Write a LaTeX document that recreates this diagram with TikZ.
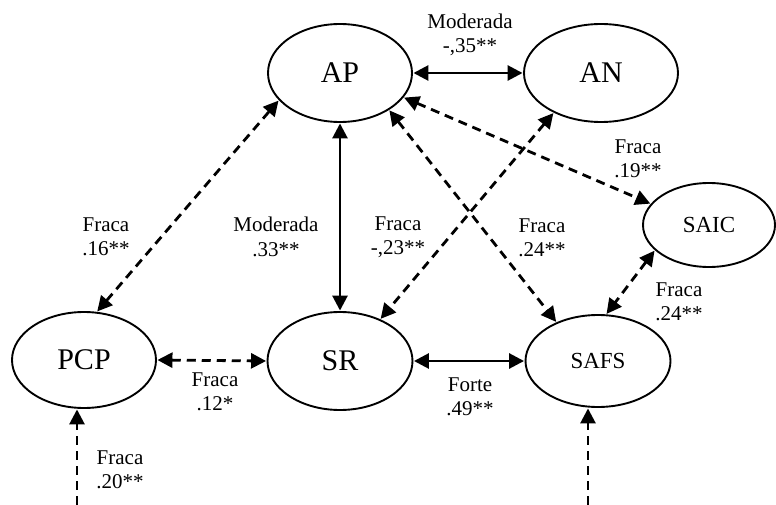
\documentclass[tikz,border=0pt]{standalone}
\usepackage{fontspec}
\setmainfont{Liberation Serif}
\usetikzlibrary{shapes.geometric,arrows.meta}

\tikzset{
  var/.style={draw, ellipse, line width=1.9pt, inner sep=0pt},
  bigvar/.style={var, font=\fontsize{30}{32}\selectfont},
  smallvar/.style={var, font=\fontsize{23}{26}\selectfont},
  lbl/.style={align=center, inner sep=0pt, font=\fontsize{21}{24.5}\selectfont},
  tip/.style={-{Triangle[length=15pt,width=15pt]}},
  both/.style={{Triangle[length=15pt,width=15pt]}-{Triangle[length=15pt,width=15pt]}},
  rel/.style={line width=2.8pt, shorten <=0.5pt, shorten >=0.5pt},
  weak/.style={rel, dash pattern=on 9pt off 6pt},
}

\begin{document}
\begin{tikzpicture}[x=1pt, y=-1pt]
  \useasboundingbox (0,0) rectangle (776,505);

  % latent variables
  \node[bigvar, minimum width=144pt, minimum height=98pt] (AP) at (340,73) {AP};
  \node[bigvar, minimum width=154pt, minimum height=98pt] (AN) at (601,73) {AN};
  \node[smallvar, minimum width=132pt, minimum height=84pt] (SAIC) at (709,225) {SAIC};
  \node[bigvar, minimum width=144pt, minimum height=96pt] (PCP) at (84,360) {PCP};
  \node[bigvar, minimum width=145pt, minimum height=98pt] (SR) at (340,361) {SR};
  \node[smallvar, minimum width=145pt, minimum height=92pt] (SAFS) at (598,361) {SAFS};

  % loose ends at the bottom
  \coordinate (inPCP) at (77,505);
  \coordinate (inSAFS) at (588,505);

  % strong and moderate relations
  \draw[rel, both] (AP.east) -- (AN.west);
  \draw[rel, both] (AP.south) -- (SR.north);
  \draw[rel, both] (SR.east) -- (SAFS.west);

  % weak relations
  \draw[weak, both] (PCP.75) -- (AP.204);
  \draw[weak, both] (PCP.east) -- (SR.west);
  \draw[weak, both] (AN.220) -- (SR.46);
  \draw[weak, both] (AP.-37) -- (SAFS.137);
  \draw[weak, both] (AP.-21) -- (SAIC.160);
  \draw[weak, both] (SAIC.205) -- (SAFS.80);
  \draw[weak, tip] (inPCP) -- (inPCP |- PCP.south);
  \draw[weak, tip] (inSAFS) -- (inSAFS |- SAFS.south);

  % coefficients
  \node[lbl] (lAPAN) at (470,35) {Moderada\\-,35**};
  \node[lbl] (lAPSR) at (276,237) {Moderada\\.33**};
  \node[lbl] (lPCPAP) at (106,237) {Fraca\\.16**};
  \node[lbl] (lANSR) at (398,237) {Fraca\\-,23**};
  \node[lbl] (lAPSAFS) at (542,238) {Fraca\\.24**};
  \node[lbl] (lAPSAIC) at (638,159) {Fraca\\.19**};
  \node[lbl] (lSAICSAFS) at (679,302) {Fraca\\.24**};
  \node[lbl] (lPCPSR) at (215,392) {Fraca\\.12*};
  \node[lbl] (lSRSAFS) at (470,397) {Forte\\.49**};
  \node[lbl] (lPCPin) at (120,470) {Fraca\\.20**};
\end{tikzpicture}
\end{document}
